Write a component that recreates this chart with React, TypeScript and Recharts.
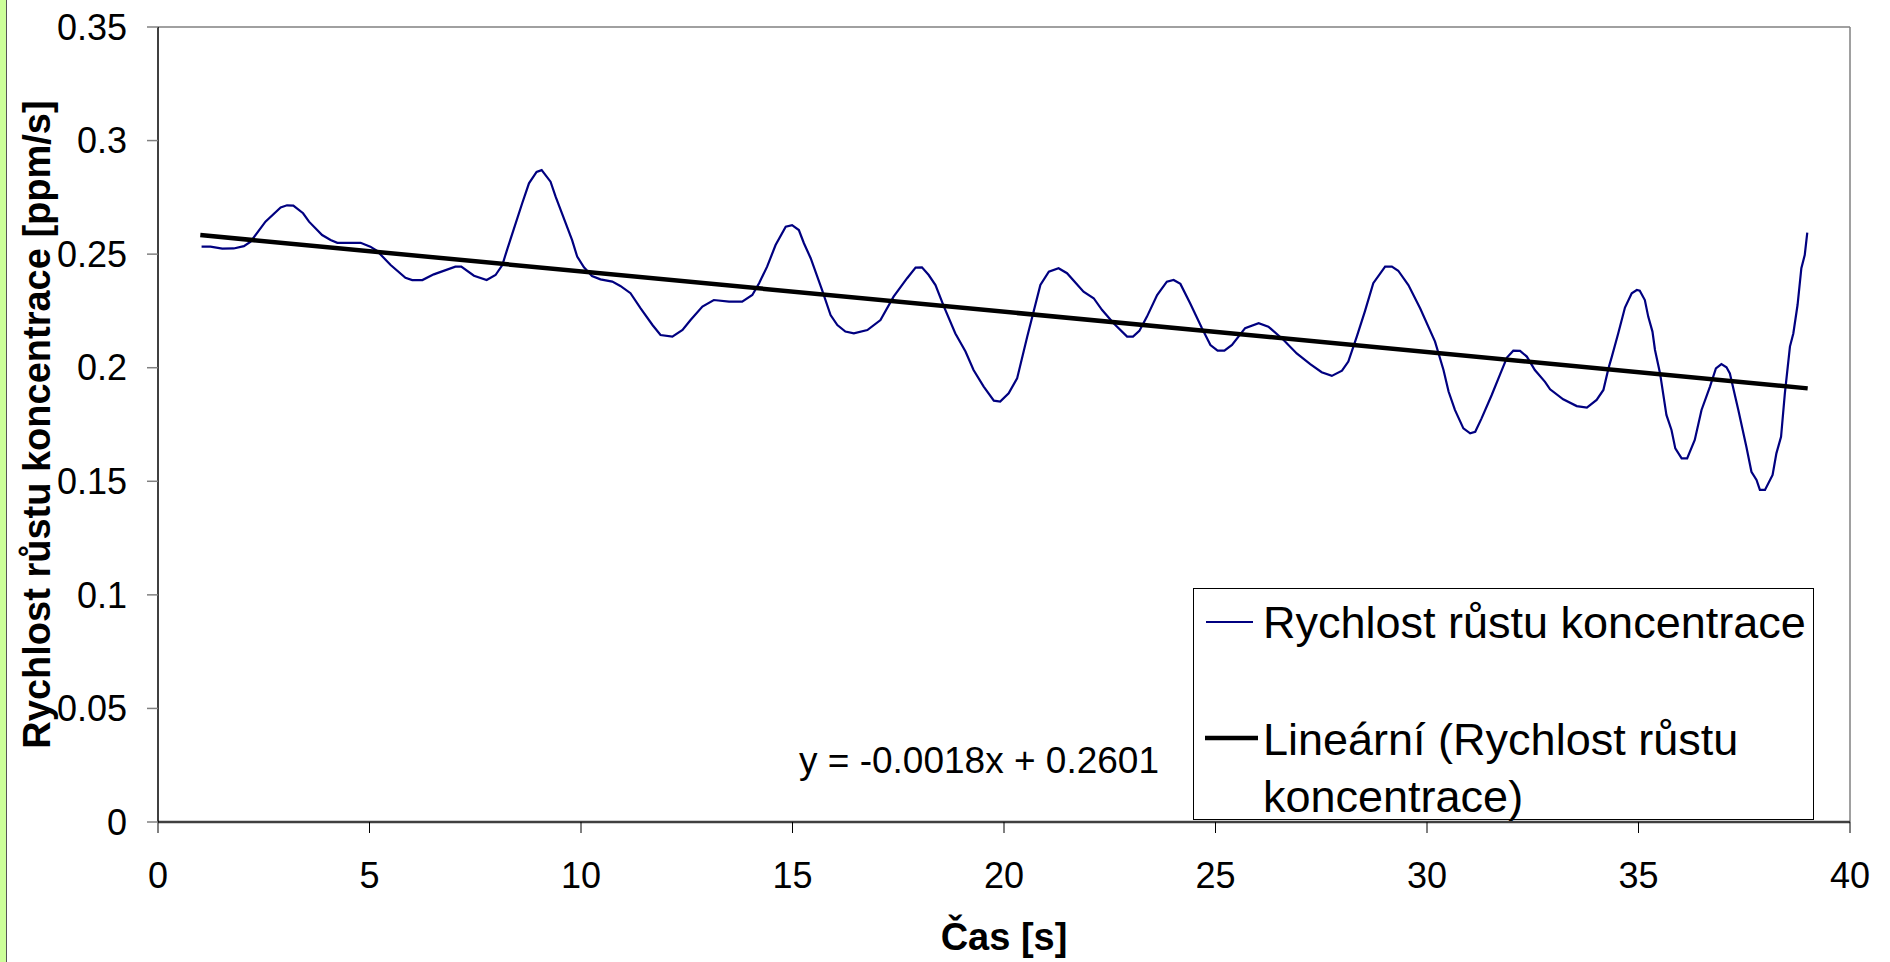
import React from 'react';
import { LineChart, Line, XAxis, YAxis, ReferenceLine } from 'recharts';

// čas [s] a rychlost růstu [ppm/s]
const casS = [
  1.03, 1.24, 1.52, 1.79, 2.03, 2.19, 2.54, 2.9, 3.05, 3.2, 3.43, 3.57, 3.88, 4.08, 4.24, 4.79,
  5.02, 5.18, 5.5, 5.85, 6.01, 6.25, 6.52, 7.03, 7.17, 7.47, 7.77, 7.98, 8.14, 8.25, 8.61, 8.77,
  8.95, 9.07, 9.28, 9.4, 9.79, 9.91, 10.07, 10.26, 10.46, 10.74, 10.93, 11.17, 11.41, 11.69, 11.88,
  12.16, 12.4, 12.59, 12.87, 13.14, 13.5, 13.81, 14.05, 14.21, 14.4, 14.6, 14.84, 14.99, 15.15,
  15.27, 15.43, 15.7, 15.9, 16.06, 16.25, 16.45, 16.77, 17.08, 17.39, 17.71, 17.91, 18.06, 18.22,
  18.38, 18.58, 18.85, 19.09, 19.28, 19.52, 19.76, 19.91, 20.11, 20.31, 20.55, 20.86, 21.06, 21.29,
  21.49, 21.88, 22.12, 22.32, 22.59, 22.91, 23.05, 23.2, 23.38, 23.62, 23.85, 24.01, 24.17, 24.4,
  24.68, 24.88, 25.05, 25.21, 25.39, 25.7, 26.02, 26.25, 26.61, 26.92, 27.24, 27.51, 27.75, 27.99,
  28.14, 28.34, 28.53, 28.73, 29.01, 29.17, 29.32, 29.56, 29.84, 30.19, 30.39, 30.51, 30.66, 30.86,
  31.02, 31.14, 31.29, 31.53, 31.73, 31.89, 32.04, 32.2, 32.36, 32.55, 32.79, 32.91, 33.22, 33.54,
  33.78, 34.01, 34.17, 34.29, 34.37, 34.52, 34.68, 34.84, 34.96, 35.03, 35.15, 35.23, 35.33, 35.39,
  35.51, 35.66, 35.78, 35.87, 36.02, 36.15, 36.33, 36.49, 36.69, 36.83, 36.96, 37.08, 37.16, 37.36,
  37.55, 37.67, 37.79, 37.87, 37.99, 38.17, 38.26, 38.37, 38.46, 38.58, 38.66, 38.76, 38.85, 38.93,
  38.99,
];
const rychlost = [
  0.2533, 0.2533, 0.2524, 0.2525, 0.2535, 0.2555, 0.2643, 0.2706, 0.2715, 0.2714, 0.268, 0.2643,
  0.2584, 0.2562, 0.255, 0.255, 0.2533, 0.2514, 0.2452, 0.2396, 0.2386, 0.2386, 0.2411, 0.2445,
  0.2445, 0.2405, 0.2386, 0.2408, 0.2452, 0.2518, 0.2724, 0.2812, 0.2862, 0.287, 0.2819, 0.2753,
  0.2562, 0.2489, 0.2442, 0.2404, 0.2389, 0.2379, 0.236, 0.2328, 0.2261, 0.2188, 0.2144, 0.2137,
  0.2166, 0.221, 0.2269, 0.2298, 0.2291, 0.2291, 0.232, 0.2372, 0.2445, 0.254, 0.2621, 0.2628,
  0.2606, 0.2548, 0.2482, 0.2342, 0.2232, 0.2188, 0.2159, 0.2151, 0.2166, 0.221, 0.2313, 0.2394,
  0.2441, 0.2442, 0.2408, 0.2364, 0.2269, 0.2151, 0.2071, 0.199, 0.1917, 0.1855, 0.1851, 0.1887,
  0.1953, 0.2137, 0.2364, 0.2423, 0.2438, 0.2416, 0.2335, 0.2306, 0.2254, 0.2196, 0.2137, 0.2137,
  0.2162, 0.2225, 0.232, 0.2379, 0.2386, 0.2369, 0.2284, 0.2174, 0.21, 0.2075, 0.2075, 0.21,
  0.2174, 0.2196, 0.2181, 0.2122, 0.2063, 0.2016, 0.198, 0.1964, 0.1987, 0.2027, 0.2137, 0.2247,
  0.2372, 0.2445, 0.2445, 0.2427, 0.2364, 0.2261, 0.2115, 0.199, 0.1895, 0.1814, 0.1733, 0.1711,
  0.1718, 0.1777, 0.188, 0.1972, 0.2045, 0.2075, 0.2074, 0.2049, 0.199, 0.1938, 0.1905, 0.1861,
  0.1831, 0.1824, 0.1858, 0.1902, 0.1997, 0.2049, 0.2151, 0.2265, 0.2328, 0.2342, 0.2339, 0.2298,
  0.2225, 0.2159, 0.2078, 0.1975, 0.1792, 0.1726, 0.1645, 0.1601, 0.1601, 0.1682, 0.1814, 0.1917,
  0.1997, 0.2016, 0.2002, 0.1975, 0.1814, 0.1652, 0.1542, 0.1506, 0.1462, 0.1462, 0.1528, 0.1623,
  0.1696, 0.1887, 0.2093, 0.2151, 0.2276, 0.2438, 0.2496, 0.2595,
];

// lineární trend (konce čáry)
const trendCas = [1, 39];
const trendHodnoty = [0.2584, 0.1909];

const xTicks = [0, 5, 10, 15, 20, 25, 30, 35, 40];
const yTicks = [0, 0.05, 0.1, 0.15, 0.2, 0.25, 0.3, 0.35];

const merene = casS.map((t, i) => ({ t, v: rychlost[i] }));
const trend = trendCas.map((t, i) => ({ t, v: trendHodnoty[i] }));

const FONT = '"Liberation Sans", Arial, sans-serif';

const xTitle = (props: any) => {
  const vb = props.viewBox;
  return (
    <text x={vb.x + vb.width / 2} y={950} textAnchor="middle" fontFamily={FONT}
      fontSize={38} fontWeight="bold" fill="#000">
      Čas [s]
    </text>
  );
};

const yTitle = (props: any) => {
  const vb = props.viewBox;
  const cy = vb.y + vb.height / 2;
  return (
    <text x={50} y={cy} textAnchor="middle" fontFamily={FONT} fontSize={38}
      fontWeight="bold" fill="#000" transform={`rotate(-90, 50, ${cy})`}>
      Rychlost růstu koncentrace [ppm/s]
    </text>
  );
};

export default function App() {
  return (
    <div style={{ position: 'absolute', left: 0, top: 0, width: 1890, height: 962, background: '#fff', fontFamily: FONT }}>
      <div style={{ position: 'absolute', left: 0, top: 0, width: 6, height: 962, background: '#ccff99', borderRight: '1px solid #555' }} />
      <LineChart width={1890} height={962} margin={{ top: 27, right: 40, bottom: 0, left: 0 }}>
        <XAxis
          type="number"
          dataKey="t"
          domain={[0, 40]}
          ticks={xTicks}
          allowDataOverflow
          height={140}
          tickSize={11}
          tickMargin={29}
          axisLine={{ stroke: '#404040', strokeWidth: 2.5 }}
          tickLine={{ stroke: '#000', strokeWidth: 1 }}
          tick={{ fill: '#000', fontSize: 36, fontFamily: FONT }}
          label={xTitle}
        />
        <YAxis
          type="number"
          domain={[0, 0.35]}
          ticks={yTicks}
          width={158}
          tickSize={11}
          tickMargin={20}
          tickFormatter={(v: number) => String(v)}
          axisLine={{ stroke: '#000', strokeWidth: 1.5 }}
          tickLine={{ stroke: '#808080', strokeWidth: 1.5 }}
          tick={{ fill: '#000', fontSize: 36, fontFamily: FONT }}
          label={yTitle}
        />
        <ReferenceLine y={0.35} stroke="#808080" strokeWidth={1.5} />
        <ReferenceLine x={40} stroke="#808080" strokeWidth={1.5} />
        <Line data={merene} dataKey="v" type="linear" stroke="#000080" strokeWidth={2.2}
          dot={false} activeDot={false} isAnimationActive={false} />
        <Line data={trend} dataKey="v" type="linear" stroke="#000" strokeWidth={4.5}
          dot={false} activeDot={false} isAnimationActive={false} />
      </LineChart>
      <svg width={1890} height={962} style={{ position: 'absolute', left: 0, top: 0, pointerEvents: 'none' }}>
        <text x={979} y={773} textAnchor="middle" fontFamily={FONT} fontSize={37} fill="#000">
          y = -0.0018x + 0.2601
        </text>
        <rect x={1193.5} y={588.5} width={620} height={231} fill="#fff" stroke="#000" strokeWidth={1} />
        <line x1={1206} x2={1253} y1={622} y2={622} stroke="#000080" strokeWidth={2} />
        <text x={1263} y={638} fontFamily={FONT} fontSize={45} fill="#000">Rychlost růstu koncentrace</text>
        <line x1={1205} x2={1258} y1={738} y2={738} stroke="#000" strokeWidth={4.5} />
        <text x={1263} y={755} fontFamily={FONT} fontSize={45} fill="#000">Lineární (Rychlost růstu</text>
        <text x={1263} y={812} fontFamily={FONT} fontSize={45} fill="#000">koncentrace)</text>
      </svg>
    </div>
  );
}
